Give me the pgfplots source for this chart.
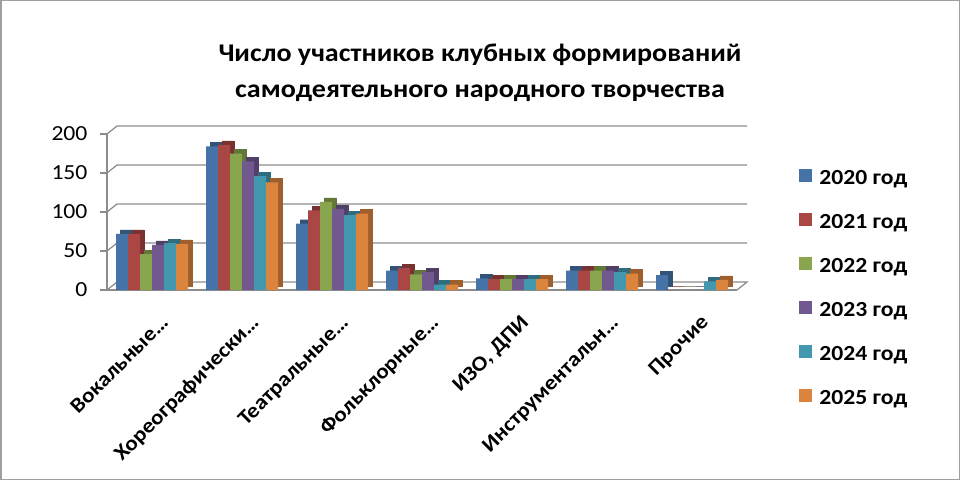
\documentclass[border=0pt]{standalone}
\usepackage{pgfplots}
\pgfplotsset{compat=1.18}
\usepackage{pgfplotstable}
\usepackage{fontspec}
\setmainfont{Carlito}[FakeStretch=1.1]
\definecolor{c1}{HTML}{4572A7}
\definecolor{c2}{HTML}{AA4643}
\definecolor{c3}{HTML}{89A54E}
\definecolor{c4}{HTML}{71588F}
\definecolor{c5}{HTML}{4198AF}
\definecolor{c6}{HTML}{DB843D}
\colorlet{d1}{c1!72!black}
\colorlet{d2}{c2!72!black}
\colorlet{d3}{c3!72!black}
\colorlet{d4}{c4!72!black}
\colorlet{d5}{c5!72!black}
\colorlet{d6}{c6!72!black}
\definecolor{gridc}{HTML}{8C8C8C}
\pgfplotstableread{
cat a b c d e f
0 72 72 46 58 60 59
1 184 186 175 165 146 138
2 85 102 113 104 96 98
3 25 28 20 23 7 7
4 15 14 14 14 14 14
5 25 25 25 25 23 21
6 19 0 0 0 11 13
}\data
\begin{document}
\begin{tikzpicture}
\useasboundingbox (0,0) rectangle (960pt,480pt);
\fill[white] (0,0) rectangle (960pt,480pt);
\draw[line width=1.5pt, gray!75] (0.75pt,0.75pt) rectangle (959.25pt,479.25pt);
\node[font=\bfseries\fontsize{25.5}{30}\selectfont, anchor=base] at (480pt,418pt) {Число участников клубных формирований};
\node[font=\bfseries\fontsize{25.5}{30}\selectfont, anchor=base] at (480pt,382pt) {самодеятельного народного творчества};
\begin{axis}[
  at={(107pt,190pt)}, anchor=south west,
  scale only axis, width=630pt, height=156pt,
  xmin=-0.5, xmax=6.5, ymin=0, ymax=200,
  clip=false,
  axis x line*=bottom, axis y line*=left,
  axis line style={gridc, line width=1.2pt},
  ytick={0,50,...,200},
  xtick={0,...,6},
  xticklabels={Вокальные…,Хореографически…,Театральные…,Фольклорные…,{ИЗО, ДПИ},Инструментальн…,Прочие},
  xtick style={draw=none},
  ytick style={gridc, line width=1.2pt},
  tick align=outside, major tick length=7pt,
  /pgf/number format/assume math mode=true,
  yticklabel style={font=\fontsize{21.5}{22}\selectfont, xshift=-9pt},
  xticklabel style={font=\bfseries\fontsize{21}{21}\selectfont, rotate=45, anchor=north east, xshift=-3pt, yshift=-14pt},
  legend style={at={(axis description cs:1.094,0.0)}, anchor=west, draw=none, fill=none,
    font=\bfseries\fontsize{21.5}{22}\selectfont, row sep=22.5pt, column sep=7pt,
    nodes={inner sep=0pt, text height=15pt, text depth=6pt}},
  legend cell align=left,
  legend image code/.code={\fill[#1] (0pt,-2pt) rectangle (13pt,11pt);},
]
\pgfplotsinvokeforeach{50,100,150,200}{
  \draw[gridc, line width=1.2pt] (axis cs:-0.5,#1) -- ([shift={(10pt,8pt)}]axis cs:-0.5,#1) -- ([shift={(10pt,8pt)}]axis cs:6.5,#1);
}
\draw[gridc, line width=1.2pt] (axis cs:-0.5,0) -- ([shift={(10pt,8pt)}]axis cs:-0.5,0) -- ([shift={(10pt,8pt)}]axis cs:6.5,0) -- (axis cs:6.5,0);
% depth + front bars
\addplot[ybar, bar width=12pt, bar shift=-26pt, fill=d1, draw=d1, yshift=4pt, forget plot] table[x=cat,y=a]{\data};
\addplot[ybar, bar width=12pt, bar shift=-30pt, fill=c1, draw=none] table[x=cat,y=a]{\data};
\addlegendentry{2020 год}
\addplot[ybar, bar width=12pt, bar shift=-14pt, fill=d2, draw=d2, yshift=4pt, forget plot] table[x=cat,y=b]{\data};
\addplot[ybar, bar width=12pt, bar shift=-18pt, fill=c2, draw=none] table[x=cat,y=b]{\data};
\addlegendentry{2021 год}
\addplot[ybar, bar width=12pt, bar shift=-2pt, fill=d3, draw=d3, yshift=4pt, forget plot] table[x=cat,y=c]{\data};
\addplot[ybar, bar width=12pt, bar shift=-6pt, fill=c3, draw=none] table[x=cat,y=c]{\data};
\addlegendentry{2022 год}
\addplot[ybar, bar width=12pt, bar shift=10pt, fill=d4, draw=d4, yshift=4pt, forget plot] table[x=cat,y=d]{\data};
\addplot[ybar, bar width=12pt, bar shift=6pt, fill=c4, draw=none] table[x=cat,y=d]{\data};
\addlegendentry{2023 год}
\addplot[ybar, bar width=12pt, bar shift=22pt, fill=d5, draw=d5, yshift=4pt, forget plot] table[x=cat,y=e]{\data};
\addplot[ybar, bar width=12pt, bar shift=18pt, fill=c5, draw=none] table[x=cat,y=e]{\data};
\addlegendentry{2024 год}
\addplot[ybar, bar width=12pt, bar shift=34pt, fill=d6, draw=d6, yshift=4pt, forget plot] table[x=cat,y=f]{\data};
\addplot[ybar, bar width=12pt, bar shift=30pt, fill=c6, draw=none] table[x=cat,y=f]{\data};
\addlegendentry{2025 год}
\end{axis}
\end{tikzpicture}
\end{document}
